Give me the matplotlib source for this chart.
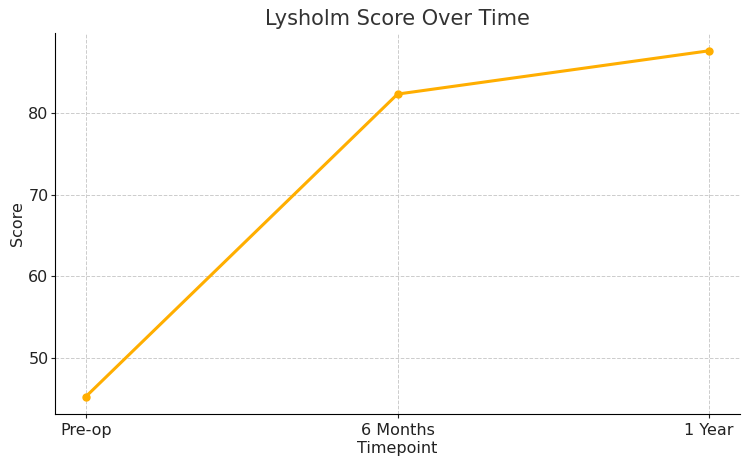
import matplotlib
matplotlib.use("Agg")
import matplotlib.pyplot as plt

timepoints = ["Pre-op", "6 Months", "1 Year"]
scores = [45.3, 82.3, 87.6]

fig, ax = plt.subplots(figsize=(7.5, 4.65), dpi=100)
ax.plot(timepoints, scores, color="#ffae00", linewidth=2.2, marker="o", markersize=5)
ax.set_title("Lysholm Score Over Time", fontsize=15, color="#333333")
ax.set_xlabel("Timepoint", fontsize=11.5, color="#222222", labelpad=2)
ax.set_ylabel("Score", fontsize=11.5, color="#222222", labelpad=2)
ax.tick_params(labelsize=11.5, colors="#222222", length=3)
ax.tick_params(axis="y", pad=1.5)
ax.grid(True, linestyle="--", color="#cccccc", linewidth=0.7)
ax.spines["top"].set_visible(False)
ax.spines["right"].set_visible(False)
ax.set_axisbelow(True)
fig.subplots_adjust(left=0.073, right=0.987, top=0.928, bottom=0.11)
fig.savefig("out.png", dpi=100)
